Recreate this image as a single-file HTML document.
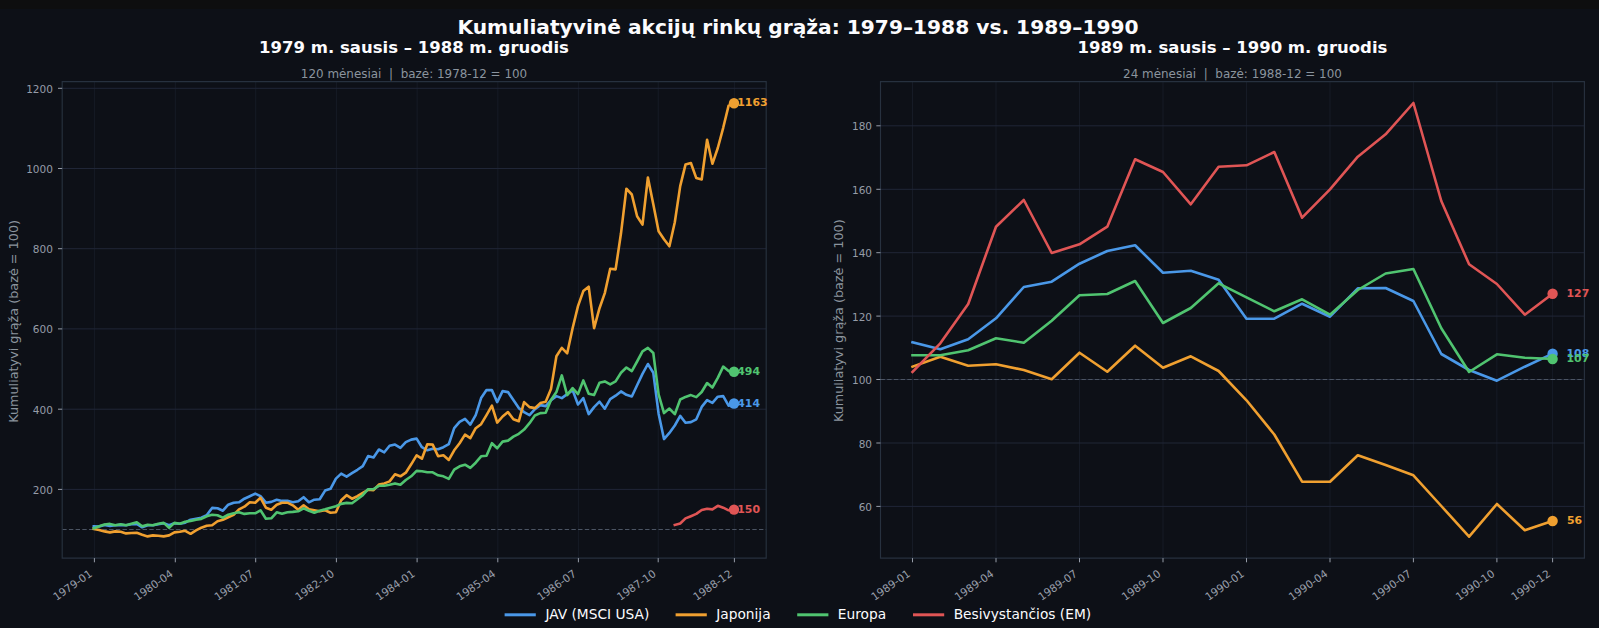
<!DOCTYPE html>
<html lang="lt"><head><meta charset="utf-8"><title>Kumuliatyvinė akcijų rinkų grąža</title>
<style>html,body{margin:0;padding:0;background:#0d1017;}svg{display:block}text{white-space:pre}</style>
</head><body>
<svg width="1599" height="628" viewBox="0 0 1599 628" font-family="'DejaVu Sans','Liberation Sans',sans-serif">
<rect x="0" y="0" width="1599" height="628" fill="#0d1017"/>
<rect x="0" y="0" width="1599" height="9" fill="#0e0e0f"/>
<rect x="62.2" y="81.6" width="704.0" height="476.5" fill="#0d1017"/>
<line x1="94.4" y1="81.6" x2="94.4" y2="558.1" stroke="#161b26" stroke-width="1"/>
<line x1="175.3" y1="81.6" x2="175.3" y2="558.1" stroke="#161b26" stroke-width="1"/>
<line x1="255.7" y1="81.6" x2="255.7" y2="558.1" stroke="#161b26" stroke-width="1"/>
<line x1="336.4" y1="81.6" x2="336.4" y2="558.1" stroke="#161b26" stroke-width="1"/>
<line x1="417.1" y1="81.6" x2="417.1" y2="558.1" stroke="#161b26" stroke-width="1"/>
<line x1="497.8" y1="81.6" x2="497.8" y2="558.1" stroke="#161b26" stroke-width="1"/>
<line x1="578.4" y1="81.6" x2="578.4" y2="558.1" stroke="#161b26" stroke-width="1"/>
<line x1="658.2" y1="81.6" x2="658.2" y2="558.1" stroke="#161b26" stroke-width="1"/>
<line x1="734.4" y1="81.6" x2="734.4" y2="558.1" stroke="#161b26" stroke-width="1"/>
<line x1="62.2" y1="88.3" x2="766.2" y2="88.3" stroke="#202637" stroke-width="1"/>
<line x1="62.2" y1="168.5" x2="766.2" y2="168.5" stroke="#202637" stroke-width="1"/>
<line x1="62.2" y1="248.7" x2="766.2" y2="248.7" stroke="#202637" stroke-width="1"/>
<line x1="62.2" y1="328.9" x2="766.2" y2="328.9" stroke="#202637" stroke-width="1"/>
<line x1="62.2" y1="409.2" x2="766.2" y2="409.2" stroke="#202637" stroke-width="1"/>
<line x1="62.2" y1="489.4" x2="766.2" y2="489.4" stroke="#202637" stroke-width="1"/>
<line x1="62.2" y1="529.5" x2="766.2" y2="529.5" stroke="#4b5463" stroke-width="1.2" stroke-dasharray="4.4 2.3"/>
<polyline points="93.8,526.4 99.1,526.5 104.5,524.9 109.9,525.9 115.3,525.3 120.7,524.9 126.0,525.3 131.4,524.3 136.8,523.9 142.2,527.3 147.6,525.3 152.9,525.3 158.3,524.3 163.7,523.3 169.1,525.3 174.4,523.3 179.8,523.7 185.2,522.7 190.6,519.7 196.0,518.7 201.3,517.7 206.7,515.3 212.1,507.9 217.5,508.3 222.9,510.7 228.2,504.7 233.6,502.7 239.0,502.3 244.4,498.7 249.8,496.2 255.2,493.6 260.5,496.2 265.9,502.7 271.3,501.9 276.7,499.7 282.0,500.9 287.4,500.7 292.8,502.3 298.2,501.3 303.6,497.2 308.9,502.3 314.3,499.7 319.7,499.3 325.1,490.6 330.5,488.8 335.9,478.6 341.2,473.6 346.6,476.6 352.0,473.2 357.4,469.8 362.8,466.1 368.1,456.1 373.5,457.5 378.9,449.5 384.3,452.3 389.6,445.8 395.0,444.6 400.4,447.8 405.8,442.2 411.2,439.6 416.6,438.6 421.9,447.2 427.3,450.3 432.7,448.7 438.1,449.3 443.4,447.2 448.8,444.2 454.2,428.2 459.6,421.8 465.0,418.8 470.3,424.6 475.7,415.1 481.1,398.1 486.5,390.1 491.9,390.1 497.2,402.1 502.6,391.1 508.0,392.1 513.4,400.1 518.8,408.1 524.1,412.1 529.5,415.1 534.9,409.1 540.3,405.1 545.7,406.1 551.0,400.1 556.4,396.1 561.8,398.1 567.2,394.1 572.6,390.1 578.0,404.5 583.3,398.1 588.7,414.1 594.1,407.1 599.5,401.7 604.8,408.7 610.2,399.1 615.6,395.7 621.0,391.4 626.4,394.8 631.8,396.5 637.1,385.2 642.5,373.9 647.9,364.0 653.3,372.8 658.6,413.7 664.0,439.1 669.4,432.9 674.8,425.5 680.2,415.9 685.5,422.7 690.9,422.1 696.3,419.3 701.7,406.9 707.1,400.1 712.4,402.9 717.8,396.7 723.2,396.1 728.6,405.7 734.0,403.5" fill="none" stroke="#4a98e8" stroke-width="2.6" stroke-linejoin="round" stroke-linecap="square"/>
<polyline points="93.8,528.9 99.1,530.0 104.5,531.4 109.9,532.4 115.3,531.4 120.7,531.8 126.0,533.4 131.4,533.0 136.8,532.8 142.2,534.8 147.6,536.4 152.9,535.4 158.3,535.8 163.7,536.4 169.1,535.4 174.4,532.4 179.8,531.8 185.2,530.8 190.6,533.8 196.0,530.4 201.3,527.7 206.7,525.7 212.1,525.3 217.5,521.3 222.9,519.7 228.2,517.3 233.6,514.9 239.0,509.3 244.4,506.7 249.8,502.3 255.2,502.7 260.5,497.8 265.9,507.7 271.3,509.7 276.7,504.7 282.0,502.7 287.4,502.7 292.8,505.3 298.2,509.7 303.6,505.3 308.9,509.3 314.3,510.3 319.7,511.3 325.1,510.3 330.5,512.7 335.9,512.3 341.2,500.3 346.6,495.2 352.0,498.7 357.4,496.2 362.8,492.8 368.1,489.8 373.5,490.2 378.9,484.6 384.3,483.4 389.6,481.4 395.0,474.3 400.4,476.3 405.8,472.7 411.2,464.3 416.6,455.3 421.9,458.7 427.3,444.2 432.7,444.6 438.1,456.3 443.4,455.3 448.8,459.9 454.2,450.3 459.6,443.2 465.0,434.6 470.3,438.2 475.7,428.2 481.1,424.2 486.5,415.1 491.9,405.7 497.2,422.6 502.6,416.5 508.0,412.1 513.4,419.2 518.8,421.2 524.1,402.1 529.5,407.1 534.9,408.1 540.3,403.1 545.7,401.7 551.0,389.1 556.4,356.3 561.8,347.9 567.2,353.3 572.6,328.2 578.0,306.1 583.3,291.1 588.7,286.7 594.1,328.2 599.5,308.2 604.8,293.1 610.2,268.8 615.6,269.4 621.0,233.3 626.4,188.7 631.8,194.5 637.1,216.2 642.5,224.6 647.9,177.5 653.3,204.2 658.6,231.3 664.0,239.3 669.4,246.3 674.8,222.2 680.2,186.1 685.5,164.6 690.9,163.0 696.3,178.1 701.7,179.5 707.1,139.8 712.4,163.8 717.8,148.0 723.2,127.8 728.6,105.6 734.0,103.3" fill="none" stroke="#f0a030" stroke-width="2.6" stroke-linejoin="round" stroke-linecap="square"/>
<polyline points="93.8,528.3 99.1,526.3 104.5,524.5 109.9,523.9 115.3,525.3 120.7,524.3 126.0,525.3 131.4,523.7 136.8,522.3 142.2,526.3 147.6,524.7 152.9,525.3 158.3,523.7 163.7,522.9 169.1,527.9 174.4,522.9 179.8,523.7 185.2,521.7 190.6,520.9 196.0,519.7 201.3,518.9 206.7,516.3 212.1,514.7 217.5,515.3 222.9,517.7 228.2,514.7 233.6,513.3 239.0,512.3 244.4,513.9 249.8,513.3 255.2,513.3 260.5,510.3 265.9,518.7 271.3,518.3 276.7,512.3 282.0,513.7 287.4,512.3 292.8,511.9 298.2,511.3 303.6,508.3 308.9,510.7 314.3,512.7 319.7,510.7 325.1,509.3 330.5,507.7 335.9,506.3 341.2,503.9 346.6,502.9 352.0,503.3 357.4,499.3 362.8,495.2 368.1,489.2 373.5,489.2 378.9,485.8 384.3,485.8 389.6,484.8 395.0,483.4 400.4,484.8 405.8,480.0 411.2,476.3 416.6,470.9 421.9,471.3 427.3,472.3 432.7,472.3 438.1,475.3 443.4,476.3 448.8,478.9 454.2,469.7 459.6,466.3 465.0,464.7 470.3,467.9 475.7,462.7 481.1,456.3 486.5,455.7 491.9,443.2 497.2,448.3 502.6,441.6 508.0,440.6 513.4,436.6 518.8,433.8 524.1,429.6 529.5,423.2 534.9,415.5 540.3,413.1 545.7,412.7 551.0,400.1 556.4,392.1 561.8,375.4 567.2,395.1 572.6,388.1 578.0,394.1 583.3,380.4 588.7,393.7 594.1,395.1 599.5,382.8 604.8,381.4 610.2,384.4 615.6,381.4 621.0,372.8 626.4,367.5 631.8,371.1 637.1,361.5 642.5,351.3 647.9,347.9 653.3,353.0 658.6,394.4 664.0,413.1 669.4,408.6 674.8,414.2 680.2,399.5 685.5,396.9 690.9,395.1 696.3,397.1 701.7,392.0 707.1,383.0 712.4,387.5 717.8,377.9 723.2,366.6 728.6,371.1 734.0,371.7" fill="none" stroke="#50c470" stroke-width="2.6" stroke-linejoin="round" stroke-linecap="square"/>
<polyline points="674.8,525.0 680.2,523.5 685.5,518.4 690.9,516.2 696.3,513.9 701.7,510.0 707.1,508.8 712.4,509.4 717.8,505.8 723.2,507.7 728.6,510.3 734.0,509.6" fill="none" stroke="#e05555" stroke-width="2.6" stroke-linejoin="round" stroke-linecap="square"/>
<circle cx="734.0" cy="403.5" r="5.2" fill="#4a98e8"/>
<circle cx="734.0" cy="103.3" r="5.2" fill="#f0a030"/>
<circle cx="734.0" cy="371.7" r="5.2" fill="#50c470"/>
<circle cx="734.0" cy="509.6" r="5.2" fill="#e05555"/>
<path d="M62.2 81.6H766.2V558.1H62.2Z" fill="none" stroke="#27313f" stroke-width="1.15" stroke-linejoin="miter"/>
<text x="737.3" y="407.1" font-size="10.9" font-weight="bold" fill="#4a98e8">414</text>
<text x="737.3" y="106.3" font-size="10.9" font-weight="bold" fill="#f0a030">1163</text>
<text x="737.3" y="375.3" font-size="10.9" font-weight="bold" fill="#50c470">494</text>
<text x="737.3" y="513.2" font-size="10.9" font-weight="bold" fill="#e05555">150</text>
<line x1="94.4" y1="558.1" x2="94.4" y2="562.3000000000001" stroke="#969ca8" stroke-width="1"/>
<text x="0" y="0" transform="translate(93.0,575.4) rotate(-35)" text-anchor="end" font-size="10.7" fill="#969ca8">1979-01</text>
<line x1="175.3" y1="558.1" x2="175.3" y2="562.3000000000001" stroke="#969ca8" stroke-width="1"/>
<text x="0" y="0" transform="translate(173.9,575.4) rotate(-35)" text-anchor="end" font-size="10.7" fill="#969ca8">1980-04</text>
<line x1="255.7" y1="558.1" x2="255.7" y2="562.3000000000001" stroke="#969ca8" stroke-width="1"/>
<text x="0" y="0" transform="translate(254.3,575.4) rotate(-35)" text-anchor="end" font-size="10.7" fill="#969ca8">1981-07</text>
<line x1="336.4" y1="558.1" x2="336.4" y2="562.3000000000001" stroke="#969ca8" stroke-width="1"/>
<text x="0" y="0" transform="translate(335.0,575.4) rotate(-35)" text-anchor="end" font-size="10.7" fill="#969ca8">1982-10</text>
<line x1="417.1" y1="558.1" x2="417.1" y2="562.3000000000001" stroke="#969ca8" stroke-width="1"/>
<text x="0" y="0" transform="translate(415.7,575.4) rotate(-35)" text-anchor="end" font-size="10.7" fill="#969ca8">1984-01</text>
<line x1="497.8" y1="558.1" x2="497.8" y2="562.3000000000001" stroke="#969ca8" stroke-width="1"/>
<text x="0" y="0" transform="translate(496.4,575.4) rotate(-35)" text-anchor="end" font-size="10.7" fill="#969ca8">1985-04</text>
<line x1="578.4" y1="558.1" x2="578.4" y2="562.3000000000001" stroke="#969ca8" stroke-width="1"/>
<text x="0" y="0" transform="translate(577.0,575.4) rotate(-35)" text-anchor="end" font-size="10.7" fill="#969ca8">1986-07</text>
<line x1="658.2" y1="558.1" x2="658.2" y2="562.3000000000001" stroke="#969ca8" stroke-width="1"/>
<text x="0" y="0" transform="translate(656.8,575.4) rotate(-35)" text-anchor="end" font-size="10.7" fill="#969ca8">1987-10</text>
<line x1="734.4" y1="558.1" x2="734.4" y2="562.3000000000001" stroke="#969ca8" stroke-width="1"/>
<text x="0" y="0" transform="translate(733.0,575.4) rotate(-35)" text-anchor="end" font-size="10.7" fill="#969ca8">1988-12</text>
<line x1="58.0" y1="88.3" x2="62.2" y2="88.3" stroke="#969ca8" stroke-width="1"/>
<text x="52.9" y="92.8" text-anchor="end" font-size="10.5" fill="#969ca8">1200</text>
<line x1="58.0" y1="168.5" x2="62.2" y2="168.5" stroke="#969ca8" stroke-width="1"/>
<text x="52.9" y="173.0" text-anchor="end" font-size="10.5" fill="#969ca8">1000</text>
<line x1="58.0" y1="248.7" x2="62.2" y2="248.7" stroke="#969ca8" stroke-width="1"/>
<text x="52.9" y="253.2" text-anchor="end" font-size="10.5" fill="#969ca8">800</text>
<line x1="58.0" y1="328.9" x2="62.2" y2="328.9" stroke="#969ca8" stroke-width="1"/>
<text x="52.9" y="333.4" text-anchor="end" font-size="10.5" fill="#969ca8">600</text>
<line x1="58.0" y1="409.2" x2="62.2" y2="409.2" stroke="#969ca8" stroke-width="1"/>
<text x="52.9" y="413.7" text-anchor="end" font-size="10.5" fill="#969ca8">400</text>
<line x1="58.0" y1="489.4" x2="62.2" y2="489.4" stroke="#969ca8" stroke-width="1"/>
<text x="52.9" y="493.9" text-anchor="end" font-size="10.5" fill="#969ca8">200</text>
<rect x="880.5" y="81.6" width="703.9" height="476.5" fill="#0d1017"/>
<line x1="912.5" y1="81.6" x2="912.5" y2="558.1" stroke="#161b26" stroke-width="1"/>
<line x1="996.0" y1="81.6" x2="996.0" y2="558.1" stroke="#161b26" stroke-width="1"/>
<line x1="1079.5" y1="81.6" x2="1079.5" y2="558.1" stroke="#161b26" stroke-width="1"/>
<line x1="1163.0" y1="81.6" x2="1163.0" y2="558.1" stroke="#161b26" stroke-width="1"/>
<line x1="1246.5" y1="81.6" x2="1246.5" y2="558.1" stroke="#161b26" stroke-width="1"/>
<line x1="1330.0" y1="81.6" x2="1330.0" y2="558.1" stroke="#161b26" stroke-width="1"/>
<line x1="1413.4" y1="81.6" x2="1413.4" y2="558.1" stroke="#161b26" stroke-width="1"/>
<line x1="1496.9" y1="81.6" x2="1496.9" y2="558.1" stroke="#161b26" stroke-width="1"/>
<line x1="1552.6" y1="81.6" x2="1552.6" y2="558.1" stroke="#161b26" stroke-width="1"/>
<line x1="880.5" y1="125.8" x2="1584.4" y2="125.8" stroke="#202637" stroke-width="1"/>
<line x1="880.5" y1="189.3" x2="1584.4" y2="189.3" stroke="#202637" stroke-width="1"/>
<line x1="880.5" y1="252.7" x2="1584.4" y2="252.7" stroke="#202637" stroke-width="1"/>
<line x1="880.5" y1="316.1" x2="1584.4" y2="316.1" stroke="#202637" stroke-width="1"/>
<line x1="880.5" y1="379.5" x2="1584.4" y2="379.5" stroke="#202637" stroke-width="1"/>
<line x1="880.5" y1="443.0" x2="1584.4" y2="443.0" stroke="#202637" stroke-width="1"/>
<line x1="880.5" y1="506.4" x2="1584.4" y2="506.4" stroke="#202637" stroke-width="1"/>
<line x1="880.5" y1="379.5" x2="1584.4" y2="379.5" stroke="#4b5463" stroke-width="1.2" stroke-dasharray="4.4 2.3"/>
<polyline points="912.5,342.3 940.3,349.3 968.2,339.3 996.0,318.3 1023.8,287.0 1051.7,281.7 1079.5,263.7 1107.3,251.0 1135.1,245.3 1163.0,272.7 1190.8,270.7 1218.6,279.7 1246.5,318.7 1274.3,318.7 1302.1,303.7 1330.0,316.7 1357.8,288.3 1385.6,288.0 1413.4,301.0 1441.3,354.0 1469.1,370.0 1496.9,380.7 1524.8,366.7 1552.6,353.7" fill="none" stroke="#4a98e8" stroke-width="2.6" stroke-linejoin="round" stroke-linecap="square"/>
<polyline points="912.5,366.7 940.3,356.7 968.2,365.7 996.0,364.3 1023.8,370.0 1051.7,379.3 1079.5,352.7 1107.3,371.7 1135.1,345.7 1163.0,367.7 1190.8,356.3 1218.6,371.0 1246.5,400.3 1274.3,434.5 1302.1,481.7 1330.0,481.7 1357.8,455.3 1385.6,465.0 1413.4,475.3 1441.3,506.0 1469.1,536.7 1496.9,504.0 1524.8,530.3 1552.6,521.0" fill="none" stroke="#f0a030" stroke-width="2.6" stroke-linejoin="round" stroke-linecap="square"/>
<polyline points="912.5,355.3 940.3,355.3 968.2,350.3 996.0,338.3 1023.8,342.7 1051.7,320.7 1079.5,295.3 1107.3,294.0 1135.1,281.0 1163.0,323.0 1190.8,308.0 1218.6,283.3 1246.5,297.3 1274.3,311.3 1302.1,299.3 1330.0,314.7 1357.8,290.0 1385.6,273.5 1413.4,269.0 1441.3,328.3 1469.1,372.0 1496.9,354.3 1524.8,357.7 1552.6,359.0" fill="none" stroke="#50c470" stroke-width="2.6" stroke-linejoin="round" stroke-linecap="square"/>
<polyline points="912.5,372.0 940.3,343.3 968.2,304.0 996.0,226.7 1023.8,200.0 1051.7,253.0 1079.5,244.3 1107.3,226.7 1135.1,159.3 1163.0,172.0 1190.8,204.3 1218.6,166.7 1246.5,165.3 1274.3,152.0 1302.1,217.7 1330.0,189.3 1357.8,156.7 1385.6,134.3 1413.4,103.0 1441.3,201.0 1469.1,264.3 1496.9,284.0 1524.8,314.7 1552.6,293.7" fill="none" stroke="#e05555" stroke-width="2.6" stroke-linejoin="round" stroke-linecap="square"/>
<circle cx="1552.6" cy="353.7" r="5.2" fill="#4a98e8"/>
<circle cx="1552.6" cy="521.0" r="5.2" fill="#f0a030"/>
<circle cx="1552.6" cy="359.0" r="5.2" fill="#50c470"/>
<circle cx="1552.6" cy="293.7" r="5.2" fill="#e05555"/>
<path d="M880.5 81.6H1584.4V558.1H880.5Z" fill="none" stroke="#27313f" stroke-width="1.15" stroke-linejoin="miter"/>
<text x="1566.5" y="357.3" font-size="10.9" font-weight="bold" fill="#4a98e8">108</text>
<text x="1566.9" y="523.7" font-size="10.9" font-weight="bold" fill="#f0a030">56</text>
<text x="1566.5" y="361.7" font-size="10.9" font-weight="bold" fill="#50c470">107</text>
<text x="1566.5" y="297.3" font-size="10.9" font-weight="bold" fill="#e05555">127</text>
<line x1="912.5" y1="558.1" x2="912.5" y2="562.3000000000001" stroke="#969ca8" stroke-width="1"/>
<text x="0" y="0" transform="translate(911.1,575.4) rotate(-35)" text-anchor="end" font-size="10.7" fill="#969ca8">1989-01</text>
<line x1="996.0" y1="558.1" x2="996.0" y2="562.3000000000001" stroke="#969ca8" stroke-width="1"/>
<text x="0" y="0" transform="translate(994.6,575.4) rotate(-35)" text-anchor="end" font-size="10.7" fill="#969ca8">1989-04</text>
<line x1="1079.5" y1="558.1" x2="1079.5" y2="562.3000000000001" stroke="#969ca8" stroke-width="1"/>
<text x="0" y="0" transform="translate(1078.1,575.4) rotate(-35)" text-anchor="end" font-size="10.7" fill="#969ca8">1989-07</text>
<line x1="1163.0" y1="558.1" x2="1163.0" y2="562.3000000000001" stroke="#969ca8" stroke-width="1"/>
<text x="0" y="0" transform="translate(1161.6,575.4) rotate(-35)" text-anchor="end" font-size="10.7" fill="#969ca8">1989-10</text>
<line x1="1246.5" y1="558.1" x2="1246.5" y2="562.3000000000001" stroke="#969ca8" stroke-width="1"/>
<text x="0" y="0" transform="translate(1245.1,575.4) rotate(-35)" text-anchor="end" font-size="10.7" fill="#969ca8">1990-01</text>
<line x1="1330.0" y1="558.1" x2="1330.0" y2="562.3000000000001" stroke="#969ca8" stroke-width="1"/>
<text x="0" y="0" transform="translate(1328.5,575.4) rotate(-35)" text-anchor="end" font-size="10.7" fill="#969ca8">1990-04</text>
<line x1="1413.4" y1="558.1" x2="1413.4" y2="562.3000000000001" stroke="#969ca8" stroke-width="1"/>
<text x="0" y="0" transform="translate(1412.0,575.4) rotate(-35)" text-anchor="end" font-size="10.7" fill="#969ca8">1990-07</text>
<line x1="1496.9" y1="558.1" x2="1496.9" y2="562.3000000000001" stroke="#969ca8" stroke-width="1"/>
<text x="0" y="0" transform="translate(1495.5,575.4) rotate(-35)" text-anchor="end" font-size="10.7" fill="#969ca8">1990-10</text>
<line x1="1552.6" y1="558.1" x2="1552.6" y2="562.3000000000001" stroke="#969ca8" stroke-width="1"/>
<text x="0" y="0" transform="translate(1551.2,575.4) rotate(-35)" text-anchor="end" font-size="10.7" fill="#969ca8">1990-12</text>
<line x1="876.3" y1="125.8" x2="880.5" y2="125.8" stroke="#969ca8" stroke-width="1"/>
<text x="872.0" y="130.3" text-anchor="end" font-size="10.5" fill="#969ca8">180</text>
<line x1="876.3" y1="189.3" x2="880.5" y2="189.3" stroke="#969ca8" stroke-width="1"/>
<text x="872.0" y="193.8" text-anchor="end" font-size="10.5" fill="#969ca8">160</text>
<line x1="876.3" y1="252.7" x2="880.5" y2="252.7" stroke="#969ca8" stroke-width="1"/>
<text x="872.0" y="257.2" text-anchor="end" font-size="10.5" fill="#969ca8">140</text>
<line x1="876.3" y1="316.1" x2="880.5" y2="316.1" stroke="#969ca8" stroke-width="1"/>
<text x="872.0" y="320.6" text-anchor="end" font-size="10.5" fill="#969ca8">120</text>
<line x1="876.3" y1="379.5" x2="880.5" y2="379.5" stroke="#969ca8" stroke-width="1"/>
<text x="872.0" y="384.0" text-anchor="end" font-size="10.5" fill="#969ca8">100</text>
<line x1="876.3" y1="443.0" x2="880.5" y2="443.0" stroke="#969ca8" stroke-width="1"/>
<text x="872.0" y="447.5" text-anchor="end" font-size="10.5" fill="#969ca8">80</text>
<line x1="876.3" y1="506.4" x2="880.5" y2="506.4" stroke="#969ca8" stroke-width="1"/>
<text x="872.0" y="510.9" text-anchor="end" font-size="10.5" fill="#969ca8">60</text>
<text x="798" y="33.9" text-anchor="middle" font-size="20.2" font-weight="bold" fill="#fcfcfe">Kumuliatyvinė akcijų rinkų grąža: 1979–1988 vs. 1989–1990</text>
<text x="414" y="53" text-anchor="middle" font-size="16.5" font-weight="bold" fill="#fcfcfe">1979 m. sausis – 1988 m. gruodis</text>
<text x="1232.5" y="53" text-anchor="middle" font-size="16.5" font-weight="bold" fill="#fcfcfe">1989 m. sausis – 1990 m. gruodis</text>
<text x="414" y="77.6" text-anchor="middle" font-size="11.95" fill="#8b949e">120 mėnesiai  |  bazė: 1978-12 = 100</text>
<text x="1232.5" y="77.6" text-anchor="middle" font-size="11.95" fill="#8b949e">24 mėnesiai  |  bazė: 1988-12 = 100</text>
<text transform="translate(18.1,321.4) rotate(-90)" text-anchor="middle" font-size="12.8" fill="#8b949e">Kumuliatyvi grąža (bazė = 100)</text>
<text transform="translate(843.2,320.7) rotate(-90)" text-anchor="middle" font-size="12.8" fill="#8b949e">Kumuliatyvi grąža (bazė = 100)</text>
<line x1="504.6" y1="614.8" x2="535.8" y2="614.8" stroke="#4a98e8" stroke-width="3.0"/>
<text x="545.4" y="618.8" font-size="13.75" fill="#fcfcfe">JAV (MSCI USA)</text>
<line x1="675.6" y1="614.8" x2="706.8" y2="614.8" stroke="#f0a030" stroke-width="3.0"/>
<text x="716.2" y="618.8" font-size="13.75" fill="#fcfcfe">Japonija</text>
<line x1="797.2" y1="614.8" x2="828.4" y2="614.8" stroke="#50c470" stroke-width="3.0"/>
<text x="837.8" y="618.8" font-size="13.75" fill="#fcfcfe">Europa</text>
<line x1="913.0" y1="614.8" x2="944.2" y2="614.8" stroke="#e05555" stroke-width="3.0"/>
<text x="953.7" y="618.8" font-size="13.75" fill="#fcfcfe">Besivystančios (EM)</text>
</svg>
</body></html>
